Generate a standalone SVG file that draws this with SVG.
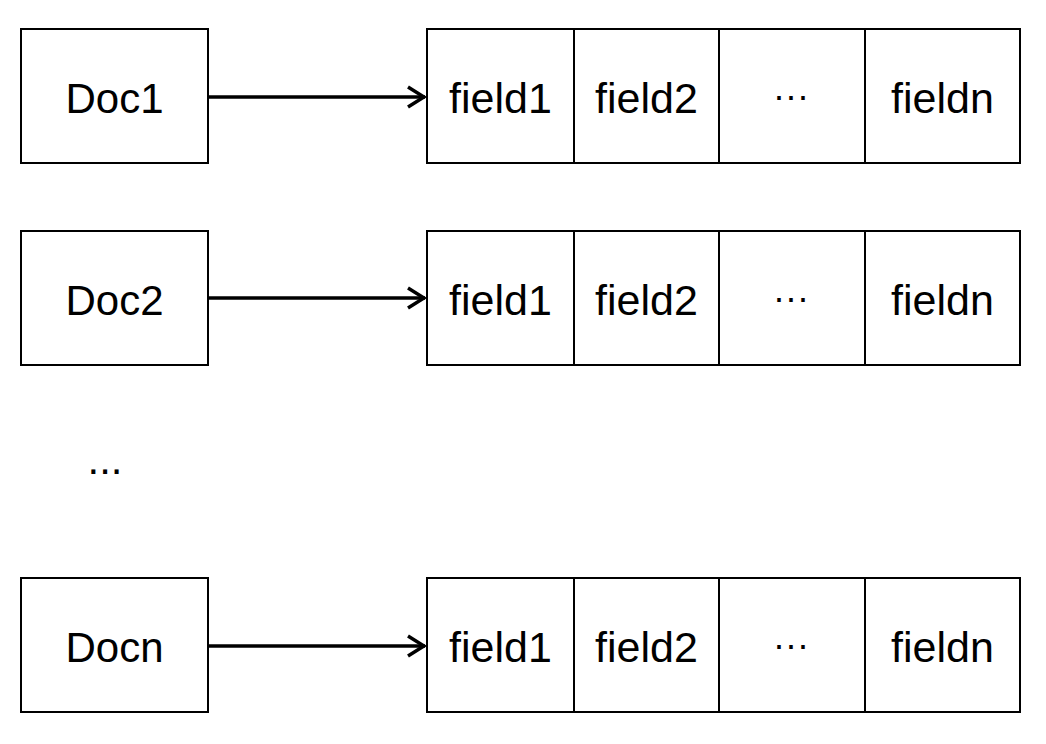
<svg xmlns="http://www.w3.org/2000/svg" width="1046" height="744" viewBox="0 0 1046 744">
<style>
.box{fill:#fff;stroke:#000;stroke-width:2}
.t{font-family:"Liberation Sans",Arial,sans-serif;font-size:43px;fill:#000;text-anchor:middle}
.d{font-size:42px}
.e{font-size:36px}
.conn{stroke:#000;stroke-width:3.5;fill:none}
</style>
<defs>
<marker id="arr" viewBox="0 0 20 24" refX="19" refY="12" markerWidth="20" markerHeight="24" markerUnits="userSpaceOnUse" orient="auto">
<path d="M2,2 L18,12 L2,22" fill="none" stroke="#000" stroke-width="3.5"/>
</marker>
</defs>
<rect width="1046" height="744" fill="#fff"/>
<g id="doc1">
<rect class="box" x="21" y="29" width="187" height="134"/>
<text class="t d" x="114.5" y="112.5">Doc1</text>
</g>
<g id="fields1">
<rect class="box" x="427" y="29" width="147" height="134"/>
<rect class="box" x="574" y="29" width="145" height="134"/>
<rect class="box" x="719" y="29" width="146" height="134"/>
<rect class="box" x="865" y="29" width="155" height="134"/>
<text class="t" x="500.5" y="112.5">field1</text>
<text class="t" x="646.5" y="112.5">field2</text>
<text class="t e" x="791" y="108">···</text>
<text class="t" x="942.5" y="112.5">fieldn</text>
</g>
<g id="doc2">
<rect class="box" x="21" y="231" width="187" height="134"/>
<text class="t d" x="114.5" y="314.5">Doc2</text>
</g>
<g id="fields2">
<rect class="box" x="427" y="231" width="147" height="134"/>
<rect class="box" x="574" y="231" width="145" height="134"/>
<rect class="box" x="719" y="231" width="146" height="134"/>
<rect class="box" x="865" y="231" width="155" height="134"/>
<text class="t" x="500.5" y="314.5">field1</text>
<text class="t" x="646.5" y="314.5">field2</text>
<text class="t e" x="791" y="310">···</text>
<text class="t" x="942.5" y="314.5">fieldn</text>
</g>
<g id="ellipsis">
<text class="t d" x="105" y="474">...</text>
</g>
<g id="docn">
<rect class="box" x="21" y="578" width="187" height="134"/>
<text class="t d" x="114.5" y="661.5">Docn</text>
</g>
<g id="fieldsn">
<rect class="box" x="427" y="578" width="147" height="134"/>
<rect class="box" x="574" y="578" width="145" height="134"/>
<rect class="box" x="719" y="578" width="146" height="134"/>
<rect class="box" x="865" y="578" width="155" height="134"/>
<text class="t" x="500.5" y="661.5">field1</text>
<text class="t" x="646.5" y="661.5">field2</text>
<text class="t e" x="791" y="657">···</text>
<text class="t" x="942.5" y="661.5">fieldn</text>
</g>
<g id="connectors">
<line class="conn" x1="208" y1="97" x2="425" y2="97" marker-end="url(#arr)"/>
<line class="conn" x1="208" y1="298" x2="425" y2="298" marker-end="url(#arr)"/>
<line class="conn" x1="208" y1="646" x2="425" y2="646" marker-end="url(#arr)"/>
</g>
</svg>
